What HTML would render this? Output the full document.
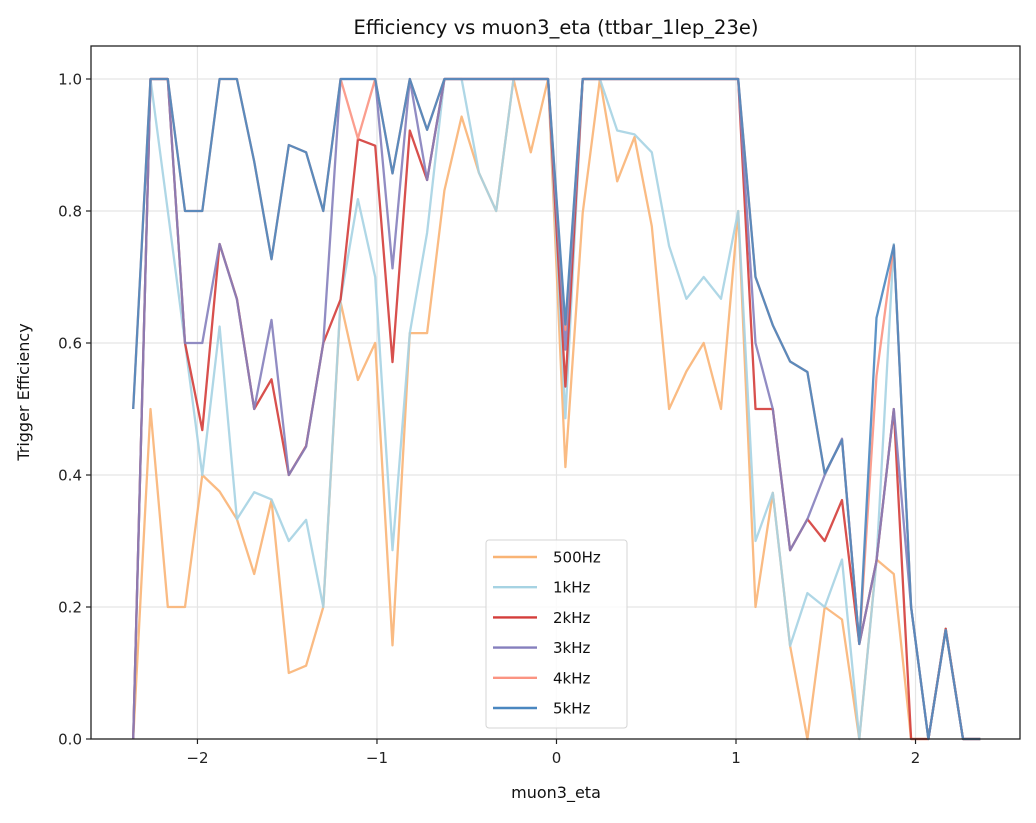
<!DOCTYPE html>
<html><head><meta charset="utf-8"><style>
body{margin:0;background:#fff;font-family:"Liberation Sans","DejaVu Sans",sans-serif;}
svg text{font-family:"DejaVu Sans","Liberation Sans",sans-serif;}
</style></head><body>
<svg id="chart" width="1036" height="818" xmlns="http://www.w3.org/2000/svg">
<rect width="1036" height="818" fill="#fff"/>
<g id="grid"></g><g id="series"></g><g id="axes"></g><g id="legend"></g>
</svg>
<script>
const etaStart = -2.358, etaStep = 0.0963, nPoints = 50;
const seriesNames = ["500Hz","1kHz","2kHz","3kHz","4kHz","5kHz"];
const colors = ["#f9b475","#a6d3e3","#d43d3a","#857fbd","#fb9482","#4a87c0"];
const s500 = [0,0.5,0.2,0.2,0.4,0.375,0.333,0.25,0.362,0.1,0.111,0.2,0.662,0.544,0.6,0.142,0.615,0.615,0.831,0.943,0.858,0.8,1,0.889,1,0.412,0.797,1,0.845,0.912,0.777,0.5,0.557,0.6,0.5,0.8,0.2,0.373,0.141,0,0.2,0.181,0,0.272,0.25,0,0,0.167,0,0];
const s1k = [0,1,0.8,0.6,0.4,0.625,0.333,0.374,0.363,0.3,0.332,0.2,0.666,0.818,0.7,0.286,0.615,0.767,1,1,0.858,0.8,1,1,1,0.486,1,1,0.922,0.916,0.889,0.747,0.667,0.7,0.667,0.8,0.3,0.373,0.141,0.221,0.2,0.272,0,0.27,0.75,0.2,0,0.167,0,0];
const s2k = [0,1,1,0.6,0.468,0.75,0.667,0.5,0.545,0.4,0.444,0.6,0.666,0.909,0.899,0.571,0.922,0.847,1,1,1,1,1,1,1,0.534,1,1,1,1,1,1,1,1,1,1,0.5,0.5,0.286,0.333,0.3,0.362,0.144,0.27,0.5,0,0,0.167,0,0];
const s3k = [0,1,1,0.6,0.6,0.75,0.666,0.5,0.635,0.4,0.443,0.6,1,1,1,0.713,1,0.847,1,1,1,1,1,1,1,0.59,1,1,1,1,1,1,1,1,1,1,0.6,0.5,0.286,0.333,0.4,0.455,0.144,0.27,0.5,0.2,0,0.165,0,0];
const s4k = [0.5,1,1,0.8,0.8,1,1,0.875,0.727,0.9,0.889,0.8,1,0.91,1,0.857,1,0.923,1,1,1,1,1,1,1,0.62,1,1,1,1,1,1,1,1,1,1,0.7,0.627,0.572,0.556,0.402,0.453,0.144,0.55,0.748,0.2,0,0.165,0,0];
const s5k = [0.5,1,1,0.8,0.8,1,1,0.875,0.727,0.9,0.889,0.8,1,1,1,0.857,1,0.923,1,1,1,1,1,1,1,0.628,1,1,1,1,1,1,1,1,1,1,0.7,0.627,0.572,0.556,0.402,0.453,0.144,0.638,0.748,0.2,0,0.165,0,0];
const allSeries = [s500,s1k,s2k,s3k,s4k,s5k];
const xTicks = [-2,-1,0,1,2];
const xTickLabels = ["\u22122","\u22121","0","1","2"];
const yTicks = [0,0.2,0.4,0.6,0.8,1.0];
const yTickLabels = ["0.0","0.2","0.4","0.6","0.8","1.0"];

const L=91,R=1020,T=46,B=739;
const xMin=-2.593,xMax=2.582,yMin=0,yMax=1.05;
const X=v=>L+(v-xMin)/(xMax-xMin)*(R-L);
const Y=v=>B-(v-yMin)/(yMax-yMin)*(B-T);
const NS="http://www.w3.org/2000/svg";
function mk(tag,attrs,parent){const e=document.createElementNS(NS,tag);for(const k in attrs)e.setAttribute(k,attrs[k]);parent.appendChild(e);return e;}
const grid=document.getElementById('grid'),ser=document.getElementById('series'),axes=document.getElementById('axes'),leg=document.getElementById('legend');
xTicks.forEach((t,i)=>{
  const g=mk('line',{x1:X(t),x2:X(t),y1:T,y2:B,stroke:'#e5e5e5','stroke-width':1.2},grid);
  
  
  const tk=mk('line',{x1:X(t),x2:X(t),y1:B,y2:B+5,stroke:'#222','stroke-width':1.2},axes);
  
  
  const tx=mk('text',{x:X(t),y:B+24,'text-anchor':'middle','font-size':15,fill:'#222'},axes);
  tx.textContent=xTickLabels[i];
  
  
});
yTicks.forEach((t,i)=>{
  const g=mk('line',{x1:L,x2:R,y1:Y(t),y2:Y(t),stroke:'#e5e5e5','stroke-width':1.2},grid);
  
  
  const tk=mk('line',{x1:L-5,x2:L,y1:Y(t),y2:Y(t),stroke:'#222','stroke-width':1.2},axes);
  
  
  const tx=mk('text',{x:L-9,y:Y(t)+5.5,'text-anchor':'end','font-size':15,fill:'#222'},axes);
  tx.textContent=yTickLabels[i];
  
  
});
allSeries.forEach((s,k)=>{
  const pts=s.map((v,i)=>X(etaStart+i*etaStep).toFixed(1)+','+Y(v).toFixed(1)).join(' ');
  const p=mk('polyline',{points:pts,fill:'none',stroke:colors[k],'stroke-width':2.3,'stroke-opacity':0.9,'stroke-linejoin':'round'},ser);
  
  
});
const frame=mk('rect',{x:L,y:T,width:R-L,height:B-T,fill:'none',stroke:'#222','stroke-width':1.3},axes);


const title=mk('text',{x:556,y:34,'text-anchor':'middle','font-size':19.5,fill:'#111'},axes);
title.textContent='Efficiency vs muon3_eta (ttbar_1lep_23e)';


const xl=mk('text',{x:556,y:798,'text-anchor':'middle','font-size':16,fill:'#111'},axes);
xl.textContent='muon3_eta';


const yl=mk('text',{x:29,y:392,'text-anchor':'middle','font-size':16,fill:'#111',transform:'rotate(-90 29 392)'},axes);
yl.textContent='Trigger Efficiency';


const lb=mk('rect',{x:486,y:540,width:141,height:188,rx:3,fill:'#fff','fill-opacity':0.85,stroke:'#d5d5d5','stroke-width':1},leg);


seriesNames.forEach((n,k)=>{
  const y=557+k*30.2;
  const ln=mk('line',{x1:493,x2:537,y1:y,y2:y,stroke:colors[k],'stroke-width':2.4},leg);
  
  
  const t=mk('text',{x:553,y:y+5.5,'font-size':15,fill:'#111'},leg);
  t.textContent=n;
  
  
});
</script>
</body></html>
